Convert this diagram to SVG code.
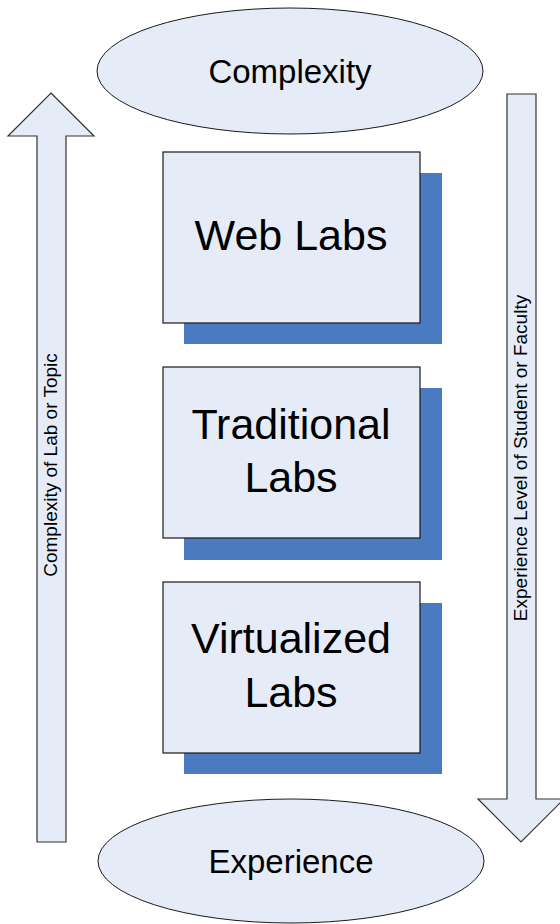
<svg xmlns="http://www.w3.org/2000/svg" width="560" height="924" viewBox="0 0 560 924">
  <style>
    .ell { fill: #e6ecf7; stroke: #1a1a1a; stroke-width: 1; }
    .arrow { fill: #e6ecf7; stroke: #333333; stroke-width: 1.2; stroke-linejoin: miter; }
    .box { fill: #e6ecf7; stroke: #1a1a1a; stroke-width: 1.2; }
    .shadow { fill: #4a7bc1; }
    .t { font-family: "Liberation Sans", Arial, sans-serif; fill: #000; text-anchor: middle; }
    .big { font-size: 43px; }
    .mid { font-size: 33px; }
    .side { font-size: 19px; }
  </style>

  <!-- side arrows -->
  <g id="connectors">
    <g id="arrow-complexity">
      <polygon class="arrow" points="51,93 94,136 66,136 66,842 37,842 37,136 8,136"/>
      <text class="t side" transform="translate(57,465) rotate(-90)">Complexity of Lab or Topic</text>
    </g>
    <g id="arrow-experience">
      <polygon class="arrow" points="507,94 536,94 536,799 564,799 521,842 478,799 507,799"/>
      <text class="t side" transform="translate(527,458) rotate(-90)">Experience Level of Student or Faculty</text>
    </g>
  </g>

  <!-- end caps -->
  <g id="complexity">
    <ellipse class="ell" cx="290" cy="71" rx="193" ry="63"/>
    <text class="t mid" x="290" y="83">Complexity</text>
  </g>
  <g id="experience">
    <ellipse class="ell" cx="291" cy="861" rx="193" ry="62"/>
    <text class="t mid" x="291" y="873">Experience</text>
  </g>

  <!-- lab boxes with drop shadows -->
  <g id="web-labs">
    <rect class="shadow" x="184" y="173" width="258" height="171"/>
    <rect class="box" x="163" y="152" width="257" height="171"/>
    <text class="t big" x="291" y="250">Web Labs</text>
  </g>
  <g id="traditional-labs">
    <rect class="shadow" x="184" y="388" width="258" height="172"/>
    <rect class="box" x="163" y="367" width="257" height="171"/>
    <text class="t big" x="291" y="439">Traditional</text>
    <text class="t big" x="291" y="492">Labs</text>
  </g>
  <g id="virtualized-labs">
    <rect class="shadow" x="184" y="603" width="258" height="171"/>
    <rect class="box" x="163" y="582" width="257" height="171"/>
    <text class="t big" x="291" y="653">Virtualized</text>
    <text class="t big" x="291" y="707">Labs</text>
  </g>
</svg>
